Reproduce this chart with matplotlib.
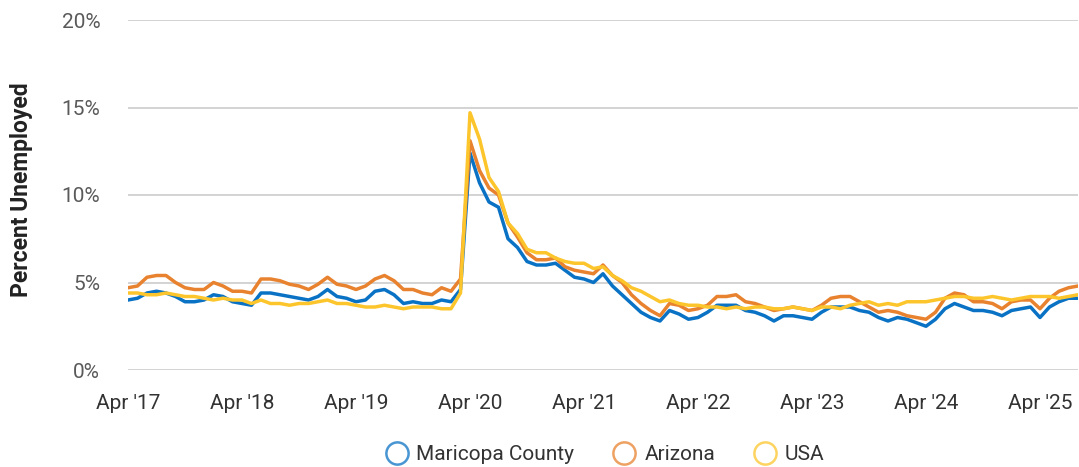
import matplotlib
matplotlib.use("Agg")
import matplotlib.pyplot as plt
from matplotlib.lines import Line2D
import pandas as pd

plt.rcParams["font.family"] = ["Roboto", "DejaVu Sans"]

# Monthly unemployment rates (%), Apr 2017 - Aug 2025
months = pd.date_range("2017-04-01", "2025-08-01", freq="MS")

maricopa = [
    4.0, 4.1, 4.4, 4.5, 4.4, 4.2, 3.9, 3.9, 4.0,
    4.3, 4.2, 3.9, 3.8, 3.7, 4.4, 4.4, 4.3, 4.2, 4.1, 4.0, 4.2,
    4.6, 4.2, 4.1, 3.9, 4.0, 4.5, 4.6, 4.3, 3.8, 3.9, 3.8, 3.8,
    4.0, 3.9, 4.6, 12.4, 10.7, 9.6, 9.3, 7.5, 7.0, 6.2, 6.0, 6.0,
    6.1, 5.7, 5.3, 5.2, 5.0, 5.5, 4.8, 4.3, 3.8, 3.3, 3.0, 2.8,
    3.4, 3.2, 2.9, 3.0, 3.3, 3.7, 3.7, 3.7, 3.4, 3.3, 3.1, 2.8,
    3.1, 3.1, 3.0, 2.9, 3.3, 3.6, 3.6, 3.6, 3.4, 3.3, 3.0, 2.8,
    3.0, 2.9, 2.7, 2.5, 2.9, 3.5, 3.8, 3.6, 3.4, 3.4, 3.3, 3.1,
    3.4, 3.5, 3.6, 3.0, 3.6, 3.9, 4.1, 4.1,
]

arizona = [
    4.7, 4.8, 5.3, 5.4, 5.4, 5.0, 4.7, 4.6, 4.6,
    5.0, 4.8, 4.5, 4.5, 4.4, 5.2, 5.2, 5.1, 4.9, 4.8, 4.6, 4.9,
    5.3, 4.9, 4.8, 4.6, 4.8, 5.2, 5.4, 5.1, 4.6, 4.6, 4.4, 4.3,
    4.7, 4.5, 5.2, 13.1, 11.4, 10.4, 10.0, 8.4, 7.6, 6.7, 6.3, 6.3,
    6.4, 5.9, 5.7, 5.6, 5.5, 6.0, 5.4, 5.0, 4.3, 3.8, 3.4, 3.1,
    3.8, 3.7, 3.4, 3.5, 3.7, 4.2, 4.2, 4.3, 3.9, 3.8, 3.6, 3.4,
    3.5, 3.6, 3.5, 3.4, 3.7, 4.1, 4.2, 4.2, 3.9, 3.6, 3.3, 3.4,
    3.3, 3.1, 3.0, 2.9, 3.3, 4.1, 4.4, 4.3, 3.9, 3.9, 3.8, 3.5,
    3.9, 4.0, 4.0, 3.5, 4.1, 4.5, 4.7, 4.8,
]

usa = [
    4.4, 4.4, 4.3, 4.3, 4.4, 4.3, 4.2, 4.2, 4.1,
    4.0, 4.1, 4.0, 4.0, 3.8, 4.0, 3.8, 3.8, 3.7, 3.8, 3.8, 3.9,
    4.0, 3.8, 3.8, 3.7, 3.6, 3.6, 3.7, 3.6, 3.5, 3.6, 3.6, 3.6,
    3.5, 3.5, 4.4, 14.7, 13.2, 11.0, 10.2, 8.4, 7.8, 6.9, 6.7, 6.7,
    6.4, 6.2, 6.1, 6.1, 5.8, 5.9, 5.4, 5.1, 4.7, 4.5, 4.2, 3.9,
    4.0, 3.8, 3.7, 3.7, 3.6, 3.6, 3.5, 3.6, 3.5, 3.6, 3.6, 3.5,
    3.5, 3.6, 3.5, 3.4, 3.6, 3.6, 3.5, 3.7, 3.8, 3.9, 3.7, 3.8,
    3.7, 3.9, 3.9, 3.9, 4.0, 4.1, 4.2, 4.2, 4.1, 4.1, 4.2, 4.1,
    4.0, 4.1, 4.2, 4.2, 4.2, 4.1, 4.2, 4.3,
]

series_names = ["Maricopa County", "Arizona", "USA"]
colors = ["#0a72c4", "#e8822e", "#fdc52c"]
y_ticks = [0, 5, 10, 15, 20]
x_tick_labels = ["Apr '17", "Apr '18", "Apr '19", "Apr '20", "Apr '21",
                 "Apr '22", "Apr '23", "Apr '24", "Apr '25"]

fig = plt.figure(figsize=(10.79, 4.67), dpi=100)
ax = fig.add_axes([128 / 1079, 1 - 370 / 467, 950 / 1079, 350 / 467])

x = list(range(len(months)))
for vals, c in zip([maricopa, arizona, usa], colors):
    ax.plot(x, vals, color=c, lw=2.5, solid_joinstyle="round", zorder=3)

ax.set_ylim(0, 20)
ax.set_xlim(0, len(months) - 1)
ax.set_yticks(y_ticks)
ax.set_yticklabels([f"{v}%" for v in y_ticks], color="#5a5a5a", fontsize=15)
ax.set_xticks([i for i, m in enumerate(months) if m.month == 4])
ax.set_xticklabels(x_tick_labels, color="#333333", fontsize=15)
ax.tick_params(axis="y", length=0, pad=20)
ax.tick_params(axis="x", length=0, pad=17.5)
ax.grid(axis="y", color="#cccccc", lw=1.2, zorder=0)
for s in ax.spines.values():
    s.set_visible(False)

ax.set_ylabel("Percent Unemployed", fontsize=16.5, fontweight="bold",
              color="#222222")
ax.yaxis.set_label_coords(-0.1, 0.515)

handles = [Line2D([], [], ls="none", marker="o", markersize=16,
                  markerfacecolor="none", markeredgecolor=c, markeredgewidth=1.8,
                  alpha=0.75)
           for c in colors]
fig.legend(handles, series_names, loc="center", bbox_to_anchor=(0.561, 0.026),
           ncol=3, frameon=False, fontsize=15, handlelength=1.0,
           handletextpad=0.45, columnspacing=1.9, labelcolor="#333333",
           borderpad=0.1)

fig.savefig("out.png", dpi=100)
